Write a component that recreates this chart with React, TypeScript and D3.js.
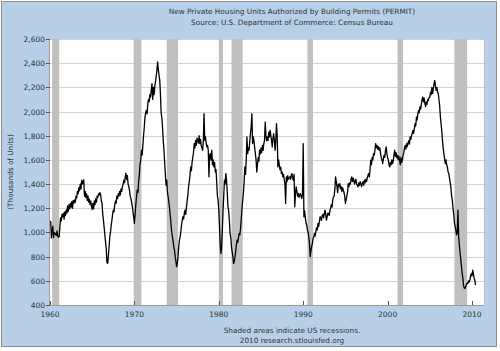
import * as d3 from "d3";
import { useEffect, useRef } from "react";

const startYear = 1960;

// thousands of units, monthly, one row per year
const permits: number[][] = [
  [1092, 1088, 955, 1016, 1052, 958, 999, 994, 984, 976, 1012, 968],
  [962, 965, 1040, 1120, 1095, 1150, 1130, 1160, 1110, 1170, 1140, 1185],
  [1160, 1220, 1175, 1230, 1195, 1240, 1210, 1255, 1200, 1265, 1240, 1270],
  [1250, 1300, 1285, 1340, 1320, 1370, 1345, 1400, 1360, 1432, 1400, 1420],
  [1435, 1300, 1340, 1290, 1320, 1265, 1300, 1250, 1275, 1230, 1260, 1215],
  [1190, 1240, 1195, 1260, 1230, 1280, 1250, 1300, 1290, 1320, 1310, 1330],
  [1310, 1260, 1240, 1150, 1100, 1040, 980, 920, 860, 750, 744, 810],
  [880, 965, 1000, 1060, 1100, 1150, 1184, 1170, 1230, 1260, 1240, 1300],
  [1280, 1320, 1300, 1340, 1310, 1360, 1340, 1380, 1400, 1432, 1410, 1460],
  [1490, 1440, 1470, 1400, 1380, 1350, 1300, 1280, 1250, 1220, 1170, 1130],
  [1074, 1150, 1230, 1294, 1350, 1330, 1420, 1480, 1560, 1600, 1680, 1640],
  [1720, 1800, 1870, 1950, 1990, 2010, 1980, 2060, 2100, 2080, 2140, 2120],
  [2180, 2230, 2100, 2200, 2140, 2210, 2250, 2290, 2340, 2410, 2350, 2300],
  [2260, 2150, 1990, 1950, 1870, 1760, 1680, 1580, 1480, 1390, 1432, 1330],
  [1294, 1250, 1200, 1140, 1070, 1010, 965, 930, 880, 854, 800, 760],
  [717, 740, 800, 880, 937, 960, 1010, 1060, 1100, 1130, 1110, 1160],
  [1184, 1150, 1210, 1260, 1310, 1377, 1420, 1470, 1542, 1510, 1580, 1620],
  [1660, 1735, 1700, 1760, 1720, 1780, 1762, 1740, 1800, 1735, 1770, 1720],
  [1700, 1680, 1760, 1983, 1762, 1790, 1740, 1707, 1720, 1680, 1460, 1640],
  [1652, 1600, 1680, 1560, 1600, 1542, 1580, 1500, 1520, 1420, 1300, 1267],
  [1180, 1050, 900, 827, 880, 1020, 1180, 1300, 1432, 1400, 1487, 1430],
  [1330, 1212, 1180, 1100, 992, 960, 880, 840, 800, 744, 760, 800],
  [840, 900, 937, 920, 960, 992, 980, 1040, 1120, 1200, 1267, 1330],
  [1420, 1542, 1480, 1600, 1790, 1652, 1700, 1680, 1750, 1820, 1870, 1983],
  [1735, 1790, 1760, 1700, 1650, 1600, 1500, 1560, 1620, 1590, 1680, 1650],
  [1700, 1660, 1720, 1680, 1735, 1760, 1913, 1800, 1760, 1790, 1760, 1830],
  [1790, 1845, 1800, 1760, 1707, 1780, 1817, 1760, 1680, 1760, 1900, 1800],
  [1542, 1600, 1560, 1520, 1540, 1487, 1500, 1460, 1480, 1440, 1404, 1239],
  [1460, 1420, 1470, 1440, 1450, 1460, 1440, 1470, 1487, 1450, 1432, 1480],
  [1212, 1320, 1377, 1340, 1300, 1322, 1290, 1310, 1322, 1300, 1280, 1320],
  [1735, 1130, 1180, 1120, 1080, 1060, 1019, 1000, 960, 900, 800, 850],
  [882, 910, 950, 960, 992, 970, 1010, 1040, 1020, 1074, 1050, 1090],
  [1130, 1110, 1100, 1140, 1150, 1120, 1160, 1184, 1150, 1102, 1130, 1160],
  [1157, 1140, 1180, 1200, 1230, 1210, 1270, 1294, 1300, 1360, 1460, 1420],
  [1377, 1330, 1400, 1380, 1404, 1360, 1380, 1340, 1370, 1350, 1330, 1300],
  [1239, 1270, 1300, 1330, 1404, 1380, 1410, 1400, 1440, 1460, 1420, 1450],
  [1432, 1400, 1420, 1440, 1400, 1390, 1377, 1410, 1390, 1420, 1404, 1380],
  [1404, 1420, 1390, 1432, 1410, 1440, 1420, 1450, 1470, 1487, 1460, 1520],
  [1597, 1560, 1620, 1600, 1652, 1640, 1680, 1735, 1700, 1720, 1690, 1710],
  [1680, 1700, 1650, 1620, 1600, 1570, 1610, 1640, 1620, 1680, 1707, 1650],
  [1620, 1600, 1560, 1542, 1580, 1560, 1600, 1570, 1590, 1640, 1680, 1630],
  [1660, 1620, 1640, 1600, 1630, 1597, 1560, 1620, 1580, 1600, 1640, 1660],
  [1700, 1720, 1690, 1735, 1710, 1740, 1760, 1730, 1790, 1770, 1800, 1820],
  [1845, 1820, 1860, 1900, 1880, 1955, 1930, 1980, 2010, 1990, 2040, 2020],
  [2060, 2100, 2120, 2080, 2110, 2065, 2040, 2080, 2060, 2100, 2090, 2120],
  [2120, 2160, 2140, 2200, 2150, 2190, 2230, 2257, 2210, 2175, 2200, 2160],
  [2150, 2100, 2050, 1955, 1900, 1840, 1760, 1700, 1652, 1610, 1570, 1600],
  [1560, 1540, 1500, 1487, 1450, 1410, 1370, 1300, 1267, 1200, 1150, 1080],
  [1050, 1019, 980, 1000, 1184, 965, 900, 830, 780, 720, 661, 620],
  [560, 540, 537, 550, 570, 580, 578, 600, 590, 606, 640, 660],
  [640, 689, 660, 620, 606, 565],
];

// NBER recessions, decimal years
const recessionStarts = [1960.25, 1969.917, 1973.833, 1980.0, 1981.5, 1990.5, 2001.167, 2007.917];
const recessionEnds = [1961.083, 1970.833, 1975.167, 1980.5, 1982.833, 1991.167, 2001.833, 2009.417];

const yTicks = [400, 600, 800, 1000, 1200, 1400, 1600, 1800, 2000, 2200, 2400, 2600];
const xTicks = [1960, 1970, 1980, 1990, 2000, 2010];

const titleLines = [
  "New Private Housing Units Authorized by Building Permits (PERMIT)",
  "Source: U.S. Department of Commerce: Census Bureau",
];
const footLines = ["Shaded areas indicate US recessions.", "2010 research.stlouisfed.org"];
const yAxisTitle = "(Thousands of Units)";

const font = "'DejaVu Sans', Verdana, sans-serif";

const PermitChart: React.FC = () => {
  const svgRef = useRef<SVGSVGElement | null>(null);

  useEffect(() => {
    const width = 500;
    const height = 351;
    const plot = { left: 50, right: 484, top: 39, bottom: 305 };

    const svg = d3.select(svgRef.current);
    svg.selectAll("*").remove();
    svg.attr("width", width).attr("height", height);

    const series = permits.flatMap((row, i) =>
      row.map((v, m) => ({ t: startYear + i + m / 12, v }))
    );

    const x = d3.scaleLinear().domain([1960, 2011.42]).range([plot.left, plot.right]);
    const y = d3.scaleLinear().domain([400, 2600]).range([plot.bottom, plot.top]);

    // frame
    svg
      .append("rect")
      .attr("x", 1.5)
      .attr("y", 1.5)
      .attr("width", 495)
      .attr("height", 345)
      .attr("fill", "#b7cfe7")
      .attr("stroke", "#8c8c8c");

    svg
      .append("rect")
      .attr("x", plot.left)
      .attr("y", plot.top)
      .attr("width", plot.right - plot.left)
      .attr("height", plot.bottom - plot.top)
      .attr("fill", "#ffffff");

    // gridlines
    svg
      .selectAll(".grid")
      .data(yTicks)
      .enter()
      .append("line")
      .attr("x1", plot.left)
      .attr("x2", plot.right)
      .attr("y1", (d) => Math.round(y(d)) + 0.5)
      .attr("y2", (d) => Math.round(y(d)) + 0.5)
      .attr("stroke", "#d2d2d2")
      .attr("stroke-width", 1);

    // recession bars
    svg
      .selectAll(".rec")
      .data(recessionStarts)
      .enter()
      .append("rect")
      .attr("x", (d) => x(d))
      .attr("y", plot.top)
      .attr("width", (d, i) => x(recessionEnds[i]) - x(d))
      .attr("height", plot.bottom - plot.top)
      .attr("fill", "#c0c0c0");

    // right border and axes
    svg
      .append("line")
      .attr("x1", plot.right + 0.5)
      .attr("x2", plot.right + 0.5)
      .attr("y1", plot.top)
      .attr("y2", plot.bottom)
      .attr("stroke", "#bdbdbd");

    svg
      .append("line")
      .attr("x1", plot.left - 0.5)
      .attr("x2", plot.left - 0.5)
      .attr("y1", plot.top)
      .attr("y2", plot.bottom)
      .attr("stroke", "#9a9a9a");

    svg
      .append("line")
      .attr("x1", plot.left)
      .attr("x2", plot.right)
      .attr("y1", plot.bottom + 0.5)
      .attr("y2", plot.bottom + 0.5)
      .attr("stroke", "#9a9a9a");

    svg
      .selectAll(".ytick")
      .data(yTicks)
      .enter()
      .append("line")
      .attr("x1", plot.left - 4)
      .attr("x2", plot.left)
      .attr("y1", (d) => Math.round(y(d)) + 0.5)
      .attr("y2", (d) => Math.round(y(d)) + 0.5)
      .attr("stroke", "#555");

    svg
      .selectAll(".xtick")
      .data(xTicks)
      .enter()
      .append("line")
      .attr("x1", (d) => Math.round(x(d)) + 0.5)
      .attr("x2", (d) => Math.round(x(d)) + 0.5)
      .attr("y1", plot.bottom - 4)
      .attr("y2", plot.bottom)
      .attr("stroke", "#555");

    // data line
    const line = d3
      .line<{ t: number; v: number }>()
      .x((d) => x(d.t))
      .y((d) => y(d.v));

    svg
      .append("path")
      .datum(series)
      .attr("d", line)
      .attr("fill", "none")
      .attr("stroke", "#000")
      .attr("stroke-width", 1.3)
      .attr("stroke-linejoin", "round");

    // labels
    const fmt = d3.format(",");
    svg
      .selectAll(".ylabel")
      .data(yTicks)
      .enter()
      .append("text")
      .attr("x", 45)
      .attr("y", (d) => y(d) + 3)
      .attr("text-anchor", "end")
      .attr("font-family", font)
      .attr("font-size", 7.5)
      .attr("fill", "#333")
      .text((d) => fmt(d));

    svg
      .selectAll(".xlabel")
      .data(xTicks)
      .enter()
      .append("text")
      .attr("x", (d) => x(d))
      .attr("y", 317)
      .attr("text-anchor", "middle")
      .attr("font-family", font)
      .attr("font-size", 7.5)
      .attr("fill", "#333")
      .text((d) => String(d));

    svg
      .append("text")
      .attr("transform", "translate(13,172) rotate(-90)")
      .attr("text-anchor", "middle")
      .attr("font-family", font)
      .attr("font-size", 7.3)
      .attr("fill", "#333")
      .text(yAxisTitle);

    svg
      .selectAll(".title")
      .data(titleLines)
      .enter()
      .append("text")
      .attr("x", 292)
      .attr("y", (d, i) => 14 + i * 11)
      .attr("text-anchor", "middle")
      .attr("font-family", font)
      .attr("font-size", 7.3)
      .attr("fill", "#333")
      .text((d) => d);

    svg
      .selectAll(".foot")
      .data(footLines)
      .enter()
      .append("text")
      .attr("x", 292)
      .attr("y", (d, i) => 333 + i * 10)
      .attr("text-anchor", "middle")
      .attr("font-family", font)
      .attr("font-size", 7.3)
      .attr("fill", "#333")
      .text((d) => d);
  }, []);

  return <svg ref={svgRef} style={{ position: "absolute", left: 0, top: 0 }} />;
};

export default function App() {
  return <PermitChart />;
}
